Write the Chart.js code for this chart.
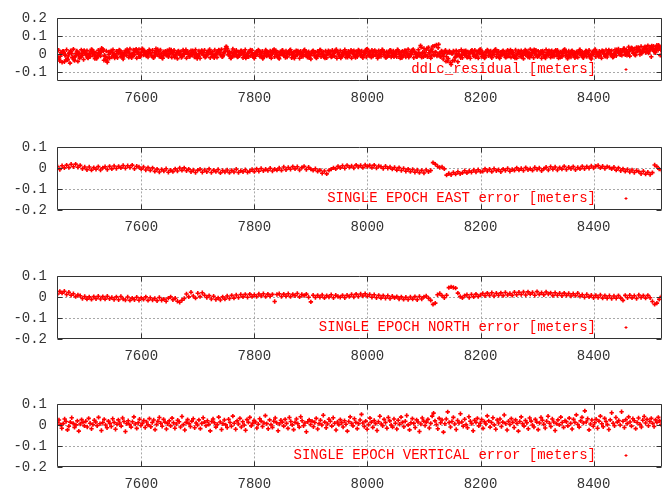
<!DOCTYPE html>
<html>
<head>
<meta charset="utf-8">
<title>Single epoch errors</title>
<script src="https://cdn.jsdelivr.net/npm/chart.js@4.4.0/dist/chart.umd.min.js"></script>
<style>
  html, body { margin: 0; padding: 0; background: #fff; }
  body { position: relative; width: 668px; height: 495px; overflow: hidden; }
  canvas { position: absolute; left: 0; }
</style>
</head>
<body>
<canvas id="ddlc" width="668" height="109" style="top:0px"></canvas>
<canvas id="east" width="668" height="109" style="top:129px"></canvas>
<canvas id="north" width="668" height="109" style="top:258px"></canvas>
<canvas id="vertical" width="668" height="109" style="top:386px"></canvas>
<script>
// epoch axis (seconds of day)
const epochMin = 7451;
const epochMax = 8521;
const epochTicks = [7600, 7800, 8000, 8200, 8400];
const residualTicks = [-0.1, 0, 0.1, 0.2];
const errorTicks = [-0.2, -0.1, 0, 0.1];

// sampling of each series: first epoch and interval in seconds
const ddlcStartA = 7452, ddlcStartB = 7453, ddlcStep = 2;
const eastStart = 7452, eastStep = 4;
const northStart = 7452, northStep = 4;
const vertStart = 7452, vertStep = 2.5;

// all values in millimetres
// double difference residuals, two satellite pairs
const ddlcResidualA = [
  -15, 22, -38, 8, -45, 17, -42, -6, 25, -32, 4, -50, 13, -20, 28, -36, -9, 18, -40, 6,
  -16, 24, -7, -30, 11, -2, 20, -22, 4, -13, 27, -5, 15, -25, 7, -18, 22, 2, -11, 33,
  28, -34, -14, 18, -45, 13, -23, 9, -16, 25, 0, -9, 16, -20, 5, 22, -13, 11, -27, 4,
  20, -7, 14, -18, 29, 2, -11, 23, -4, 16, -22, 7, 27, -14, 11, 31, -5, 18, -2, 13,
  -16, 25, 5, -9, 22, -20, 11, 30, -4, 16, -13, 23, 2, -23, 14, 7, -7, 20, -14, 27,
  4, -18, 13, 22, -5, 9, -25, 18, 0, 14, -11, 23, -2, 7, -22, 16, 5, -13, 20, -4,
  11, -16, 25, 2, -9, 18, -23, 5, 14, -7, 22, -14, 9, -2, 16, -20, 4, 13, -11, 23,
  0, -18, 11, 20, -5, 27, -13, 7, 16, 42, 30, -4, 14, -22, 9, 29, -11, 5, 22, -16,
  13, -7, 18, 2, -20, 11, 25, -4, 5, -14, 16, -9, 22, 0, -23, 9, 14, -2, 20, -13,
  7, 16, -18, 4, 23, -11, 13, -4, 18, -22, 2, 11, -14, 20, -5, 9, -25, 14, 0, 22,
  -9, 5, 18, -16, 11, -2, 25, -20, 4, 13, -11, 20, -5, 7, -23, 16, 2, -13, 22, -4,
  9, -18, 14, 0, -27, 5, 20, -9, 11, -22, 16, -4, 23, -14, 4, 13, -7, 18, -20, 7,
  -2, 14, -16, 22, 5, -11, 18, -23, 9, 0, 20, -13, 11, -5, 25, -18, 4, 16, -9, 13,
  -22, 7, 20, -4, 14, -14, 23, 2, -9, 18, -20, 11, 5, -16, 27, -7, 13, 0, 22, -11,
  16, -5, 9, -23, 20, 4, -13, 25, -2, 11, -18, 14, 7, -9, 22, -16, 2, 18, -5, 13,
  -14, 23, 0, -22, 11, 16, -7, 20, -16, 5, 27, -11, 14, -2, 22, -20, 9, 4, -13, 25,
  -5, 48, -18, 11, 32, -9, 23, -14, 38, 7, -22, 29, 45, -7, 12, 52, -4, 55, 6, -10,
  14, -27, 5, 22, -14, -38, 9, 11, -58, 3, 18, -35, -12, 4, -42, 16, -11, 25, -20, 9,
  -4, 20, -16, 13, 2, -23, 18, 7, -11, 22, -7, 14, -22, 5, 27, -13, 11, 0, -18, 16,
  23, -9, 4, 18, -20, 13, -2, 25, -14, 7, 16, -23, 11, -5, 20, 2, -16, 14, 22, -11,
  5, -18, 16, 9, -7, 23, -22, 0, 13, -13, 20, 4, -25, 14, -4, 18, -16, 7, 27, -9,
  11, -20, 2, 22, -11, 16, -4, 5, -23, 18, 9, -14, 25, 0, -7, 14, -18, 20, 4, -13,
  16, -5, 22, -22, 7, 13, -14, 2, 23, -9, 11, -25, 18, 4, -16, 20, -2, 9, -11, 14,
  -18, 5, 25, -7, 13, -20, 2, 18, -13, 9, 22, -4, -27, 14, 0, 20, -14, 7, -5, 16,
  11, -22, 18, 4, -11, 23, -16, 7, 14, -5, 20, -18, 2, 25, -9, 13, 29, 5, 22, -7,
  18, 32, -4, 25, 11, 40, -11, 22, 34, 5, 29, -7, 38, 16, 27, -2, 43, 13, 23, 36,
  9, 32, 48, 18, 40, -14, 27, 45, 14, 34, 50, 22, 43, -7, 30, 47
];

const ddlcResidualB = [
  -20, -28, -12, 3, 15, 9, -6, -33, -25, -10, 8, 19, 2, -18, -30, -14, 5, 12, -4, -22,
  -15, 2, 14, 21, 9, -5, -19, -12, 3, 17, 24, 11, -3, -16, -24, -8, 6, 19, 13, 26,
  18, -6, -28, -38, -20, -2, 12, 20, 8, -9, -21, -13, 4, 16, 23, 10, -4, -17, -10, 7,
  19, 26, 14, 1, -12, -20, -7, 9, 22, 28, 15, 0, -14, -6, 11, 24, 17, 3, -10, -3,
  12, 21, 8, -8, -18, -11, 5, 18, 27, 13, -2, -15, -22, -9, 7, 16, 6, -7, 2, 14,
  23, 11, -4, -17, -10, 4, 15, 8, -6, -19, -12, 3, 17, 25, 12, -1, -13, -5, 9, 20,
  10, -3, -16, -24, -11, 2, 13, 21, 9, -5, -18, -8, 6, 19, 26, 14, 0, -12, -20, -7,
  5, 17, 24, 12, -2, -14, -6, 10, 30, 40, 18, 3, -10, -21, -9, 6, 18, 11, -4, -15,
  -8, 7, 20, 14, 1, -13, -22, -10, 4, 16, 23, 9, -5, -17, -11, 2, 15, 24, 12, -3,
  -16, -24, -9, 6, 18, 11, -2, -14, -7, 8, 21, 27, 13, -1, -15, -20, -6, 9, 19, 5,
  -8, -19, -12, 3, 14, 22, 10, -4, -17, -23, -8, 7, 18, 12, -1, -13, -5, 11, 25, 16,
  2, -11, -20, -9, 5, 17, 9, -6, -18, -12, 1, 15, 24, 13, -3, -16, -22, -7, 8, 20,
  12, -2, -15, -8, 6, 19, 26, 11, -4, -14, -21, -10, 5, 16, 10, -3, -17, -9, 7, 22,
  15, 1, -12, -19, -6, 9, 20, 13, -1, -13, -7, 8, 23, 28, 14, 0, -11, -18, -5, 10,
  21, 12, -3, -16, -9, 4, 17, 24, 11, -5, -19, -13, 2, 14, 22, 8, -6, -15, -2, 13,
  25, 16, 1, -12, -20, -7, 8, 19, 10, -4, -17, -11, 5, 18, 27, 14, -2, -14, -6, 9,
  -6, 38, 4, -14, 10, -2, 30, -12, 8, 20, -8, 15, -3, 46, 11, -10, 36, 5, -15, 18,
  2, -12, 14, -40, 8, -25, 18, -48, 5, -36, 12, -20, 20, -8, 4, -8, -20, -6, 10, 18,
  8, -6, -18, -11, 3, 16, 22, 9, -5, -16, -9, 6, 19, 25, 12, -2, -14, -21, -7, 10,
  20, 13, -1, -13, -6, 8, 21, 26, 14, -3, -17, -10, 4, 15, 9, -5, -18, -12, 2, 17,
  24, 11, -3, -15, -22, -8, 6, 18, 12, -2, -14, -6, 10, 23, 16, 3, -11, -19, -7, 8,
  19, 25, 13, -1, -14, -9, 5, 17, 10, -4, -16, -21, -8, 7, 20, 14, 0, -12, -5, 11,
  22, 15, 2, -11, -18, -6, 9, 21, 27, 12, -3, -15, -10, 4, 16, 8, -7, -20, -13, 3,
  14, 23, 10, -4, -16, -9, 6, 18, 13, -1, -14, -22, -8, 7, 19, 26, 12, -2, -13, -6,
  9, 20, 15, 1, -12, -5, 10, 24, 17, 4, -8, -15, 0, 13, 25, 19, 6, -4, 8, 21,
  30, 18, 5, -6, 3, 16, 28, 36, 22, 9, -2, 11, 26, 38, 24, 12, 4, 17, 32, 42,
  28, 14, 6, 20, 35, 46, 30, 16, 8, 24, 40, 50, 34, 22, 36
];

const eastError = [
  8, -6, 12, 2, 15, 4, 19, 7, 20, 5, 14, -2, 6,
  -7, 6, -9, 3, -5, 8, -8, 2, 7, -6, 9, -3,
  11, -1, 9, 2, 13, 0, 12, 4, 15, -2, 10, 6, -4,
  6, -8, 3, -10, 2, -15, -4, -18, -6, -13, -2, -19, -9,
  -16, -3, -13, 1, -10, 2, -12, -4, -17, -8, -20, -9,
  -5, -19, -8, -17, -3, -20, -9, -16, -6, -22, -11, -18,
  -8, -21, -10, -18, -5, -20, -12, -17, -7, -19, -14, -6, -16,
  -3, -14, -1, -12, -5, -11, 0, -13, -4, -9, 1, -10,
  6, -7, 4, -5, 8, -3, 7, -8, 3, 9, -6, 5, -4,
  -10, -2, -15, -9, -24, -13, -27, -10, -4, 2, -3, 9,
  2, 12, 0, 14, 5, 11, 1, 15, 6, 13, 3, 16, 8,
  14, 3, 15, 1, 11, 7, -1, 10, 0, 6, -4, 4,
  -9, 3, -11, -1, -14, -4, -16, -6, -19, -8, -21, -10, -23,
  -8, -17, -11,
  27, 20, 10, 4, 6, -3,
  -33, -25, -31, -20, -28, -17, -26, -22,
  -12, -22, -13, -19, -8, -18, -7, -16,
  -15, -3, -13, -5, -16, -2, -12, -7, -17, -4, -11, -1, -14, -6, -10,
  2, -9, -1, -11, 3, -7, -2, -10, 4, -6, 1, -12, -3, 5, -8,
  7, -5, 6, -8, 3, -4, 9, -6, 5, -2, 8, -7, 4, -3,
  9, -2, 8, 0, 11, 1, 10,
  13, 2, 10, -1, 8, 4, -3, 5,
  -9, 2, -12, -3, -15, -6, -18, -8, -20, -11,
  -16, -26, -14, -28, -19, -30, -21,
  16, 8, -4, -8
];

const northError = [
  16, 28, 20, 29, 13, 24, 10, 17, 3, 11,
  7, -6, 4, -9, 2, -10, 3, -7, 5, -8,
  3, -9, 5, -7, -1, -11, 2, -12, 4, -8,
  -13, 1, -15, -4, -12, 0, -14, -3, -10, 2,
  -15, -2, -13, -6, -17, -1, -14, -9, -19, -4,
  2, -12, -5, -19, -24, -14, -6,
  16, 2, 24, 6, -4, 19, 3, 22, 10, -1,
  8, -8, 5, -11, -3, -13, 2, -9, 6, -6,
  9, -4, 11, -1, 13, 2, 14, 0, 15, 3, 12,
  4, 16, 6, 17, 3, 15, 5, 14, -20, 13, 17, 4,
  15, 5, 17, 3, 14, 7, 18, 2, 13, 8, 15, 0, -22,
  10, -1, 9, 0, 11, -3, 8, 1, 12, -2, 10, 4,
  0, 9, -2, 10, 3, 13, 1, 15, 4, 16, 6, 17, 5,
  13, 0, 12, -2, 9, -4, 8, -5, 7, -6, 5, -3,
  3, -8, 2, -10, 0, -11, 1, -9, 3, -12, 4, -8, 2,
  6, -5, -15, -34,
  -28, 12, 18, 8,
  -2, 10, 46, 50, 47, 44,
  20, 4, -3, 8,
  12, -1, 13, 2, 15, 4, 11,
  18, 7, 20, 9, 22, 6, 19, 10, 21, 8, 23, 11, 18, 9, 24,
  12, 24, 13, 25, 11, 26, 15, 23, 10, 27, 14, 22, 12, 25, 16,
  21, 8, 22, 10, 19, 7, 20, 9, 18, 6, 17, 8, 19, 5,
  12, 0, 13, 2, 10, -2, 9, -1, 11, -4, 8, -5, 7, -6, 6,
  -5, 8, -4, -15, 9, -2, 10, -3, 7, -6, 11, -1, 8, -4, 9, -2,
  -20, -34, -28, -10, 3
];

const verticalError = [
  12, 25, 3, -14, 8, 30, 18, -22, -5, 15, 36, 9, -10, 2, 21, -28, 6, 27, 14, -3,
  19, -8, 33, 10, -17, 4, 24, 16, -2, 38, 7, -25, 13, 28, 1, -12, 20, 9, -6, 31,
  14, -19, 5, 26, 11, -4, 35, 18, -30, 8, 22, 3, -9, 17, 40, 6, -15, 12, 29, -1,
  9, 23, -11, 16, 2, 32, -7, 13, 25, -21, 4, 19, 37, 10, -5, 28, 15, -18, 7, 21,
  -3, 34, 12, -14, 6, 24, 17, -8, 42, 3, -23, 14, 27, 8, -6, 20, 31, -12, 11, 1,
  26, -16, 9, 36, 15, -2, 22, 5, -27, 18, 30, 12, -9, 4, 39, 16, -20, 7, 25, 2,
  -11, 29, 13, -5, 44, 10, -19, 21, 6, 33, -8, 17, 1, -24, 27, 14, 38, -3, 9, 23,
  16, -13, 5, 31, 20, -6, 11, 46, 8, -17, 26, 3, -10, 19, 35, 12, -26, 6, 24, 15,
  -4, 28, 9, -15, 37, 18, 2, -21, 14, 30, 7, -9, 41, 22, -2, 11, -31, 17, 26, 4,
  20, -7, 13, 33, -18, 8, 24, 1, 48, 15, -12, 6, 29, 19, -4, 36, 10, -23, 16, 3,
  27, 12, -8, 22, 5, -28, 18, 40, 9, -3, 31, 14, -16, 7, 25, 52, 11, -6, 20, -19,
  4, 34, 15, -10, 23, 8, -25, 17, 43, 6, -2, 28, 13, -14, 37, 21, 1, -9, 30, 10,
  -18, 24, 5, 39, 14, -7, 19, 47, 2, -22, 12, 32, 9, -11, 26, 16, -30, 6, 35, 20,
  -1, 15, 28, -13, 9, 44, 58, 21, 4, -17, 33, 12, 25, -33, 7, 30, 64, 13, -8, 18,
  38, 6, -20, 23, 11, 55, 16, -5, 29, 3, -12, 41, 19, 8, -26, 24, 14, 33, -3, 10,
  27, -15, 17, 6, 45, 21, -9, 13, 36, 2, -19, 25, 11, 30, -6, 15, 49, 8, -23, 19,
  4, 32, 14, -11, 26, 9, -28, 18, 40, 7, -4, 23, 12, -17, 35, 20, 1, -8, 28, 15,
  -21, 11, 37, 24, 5, -13, 19, 43, 10, -6, 30, 16, -25, 8, 26, 2, 39, 13, -10, 22,
  17, -3, 34, 9, -18, 28, 14, 50, 4, -9, 21, 38, 11, 69, 16, 31, -22, 6, 25, -5,
  12, 29, -14, 20, 44, 7, -7, 33, 18, 3, -20, 26, 60, 10, -2, 37, 15, 23, 1, 65,
  19, -11, 27, 8, 40, 16, -4, 31, 22, -16, 13, 35, 5, -8, 24, 42, 11, 28, -2, 18,
  33, 9, -6, 26, 14, 38, 21, 4
];

const RED = '#ff0000';
const TEXT = '#333333';
const FONT = '"Liberation Mono", "DejaVu Sans Mono", monospace';

Chart.defaults.font.family = FONT;
Chart.defaults.font.size = 14;
Chart.defaults.color = TEXT;

// gnuplot style frame: dotted grid, solid border, inward tics and the key
const gnuplotFrame = {
  id: 'gnuplotFrame',
  beforeDatasetsDraw(chart) {
    const { ctx, chartArea: a, scales: { x, y } } = chart;
    ctx.save();
    ctx.strokeStyle = '#a8a8a8';
    ctx.lineWidth = 1;
    ctx.setLineDash([2, 2]);
    ctx.beginPath();
    x.ticks.forEach(t => {
      const px = Math.round(x.getPixelForValue(t.value)) + 0.5;
      ctx.moveTo(px, a.top);
      ctx.lineTo(px, a.bottom);
    });
    y.ticks.forEach(t => {
      const py = Math.round(y.getPixelForValue(t.value)) + 0.5;
      if (py < a.top + 2 || py > a.bottom - 2) return;
      ctx.moveTo(a.left, py);
      ctx.lineTo(a.right, py);
    });
    ctx.stroke();
    ctx.restore();
  },
  afterDatasetsDraw(chart, args, opts) {
    const { ctx, chartArea: a, scales: { x, y } } = chart;
    const L = Math.round(a.left) + 0.5, R = Math.round(a.right) - 0.5;
    const T = Math.round(a.top) + 0.5, B = Math.round(a.bottom) - 0.5;
    const tic = 5;
    ctx.save();
    ctx.strokeStyle = '#333333';
    ctx.lineWidth = 1;
    ctx.beginPath();
    ctx.rect(L, T, R - L, B - T);
    x.ticks.forEach(t => {
      const px = Math.round(x.getPixelForValue(t.value)) + 0.5;
      ctx.moveTo(px, B); ctx.lineTo(px, B - tic);
      ctx.moveTo(px, T); ctx.lineTo(px, T + tic);
    });
    y.ticks.forEach(t => {
      const py = Math.round(y.getPixelForValue(t.value)) + 0.5;
      ctx.moveTo(L, py); ctx.lineTo(L + tic, py);
      ctx.moveTo(R, py); ctx.lineTo(R - tic, py);
    });
    ctx.stroke();

    // key, bottom right inside the plot
    const ky = Math.round(a.bottom) - 12;
    ctx.fillStyle = RED;
    ctx.font = '14px ' + FONT;
    ctx.textAlign = 'right';
    ctx.textBaseline = 'middle';
    ctx.fillText(opts.label, 596, ky);
    ctx.strokeStyle = RED;
    ctx.beginPath();
    ctx.moveTo(624.5, ky + 0.5); ctx.lineTo(627.5, ky + 0.5);
    ctx.moveTo(626, ky - 1); ctx.lineTo(626, ky + 2);
    ctx.stroke();
    ctx.restore();
  }
};

function toPoints(values, start, step) {
  return values.map((v, i) => ({ x: start + i * step, y: v / 1000 }));
}

function makePanel(id, series, yMin, yMax, yTicks, label) {
  return new Chart(document.getElementById(id), {
    type: 'scatter',
    data: {
      datasets: series.map(s => ({
        data: toPoints(s.values, s.start, s.step),
        pointStyle: 'cross',
        pointRadius: 2.2,
        borderWidth: 1.6,
        borderColor: RED,
        backgroundColor: RED
      }))
    },
    plugins: [gnuplotFrame],
    options: {
      responsive: false,
      animation: false,
      events: [],
      layout: { padding: { top: 14, right: 6, left: 0, bottom: 0 } },
      scales: {
        x: {
          type: 'linear',
          min: epochMin,
          max: epochMax,
          grid: { display: false, drawTicks: false },
          border: { display: false },
          afterBuildTicks: s => { s.ticks = epochTicks.map(v => ({ value: v })); },
          afterFit: s => { s.height = 28; },
          ticks: { padding: 9, color: TEXT, maxRotation: 0, callback: v => String(v) }
        },
        y: {
          min: yMin,
          max: yMax,
          grid: { display: false, drawTicks: false },
          border: { display: false },
          afterBuildTicks: s => { s.ticks = yTicks.map(v => ({ value: v })); },
          afterFit: s => { s.width = 57; },
          ticks: { padding: 10, color: TEXT, callback: v => String(v) }
        }
      },
      plugins: {
        legend: { display: false },
        tooltip: { enabled: false },
        gnuplotFrame: { label: label }
      }
    }
  });
}

makePanel('ddlc', [
  { values: ddlcResidualA, start: ddlcStartA, step: ddlcStep },
  { values: ddlcResidualB, start: ddlcStartB, step: ddlcStep }
], -0.15, 0.2, residualTicks, 'ddLc_residual [meters]');
makePanel('east', [{ values: eastError, start: eastStart, step: eastStep }],
  -0.2, 0.1, errorTicks, 'SINGLE EPOCH EAST error [meters]');
makePanel('north', [{ values: northError, start: northStart, step: northStep }],
  -0.2, 0.1, errorTicks, 'SINGLE EPOCH NORTH error [meters]');
makePanel('vertical', [{ values: verticalError, start: vertStart, step: vertStep }],
  -0.2, 0.1, errorTicks, 'SINGLE EPOCH VERTICAL error [meters]');
</script>
</body>
</html>
